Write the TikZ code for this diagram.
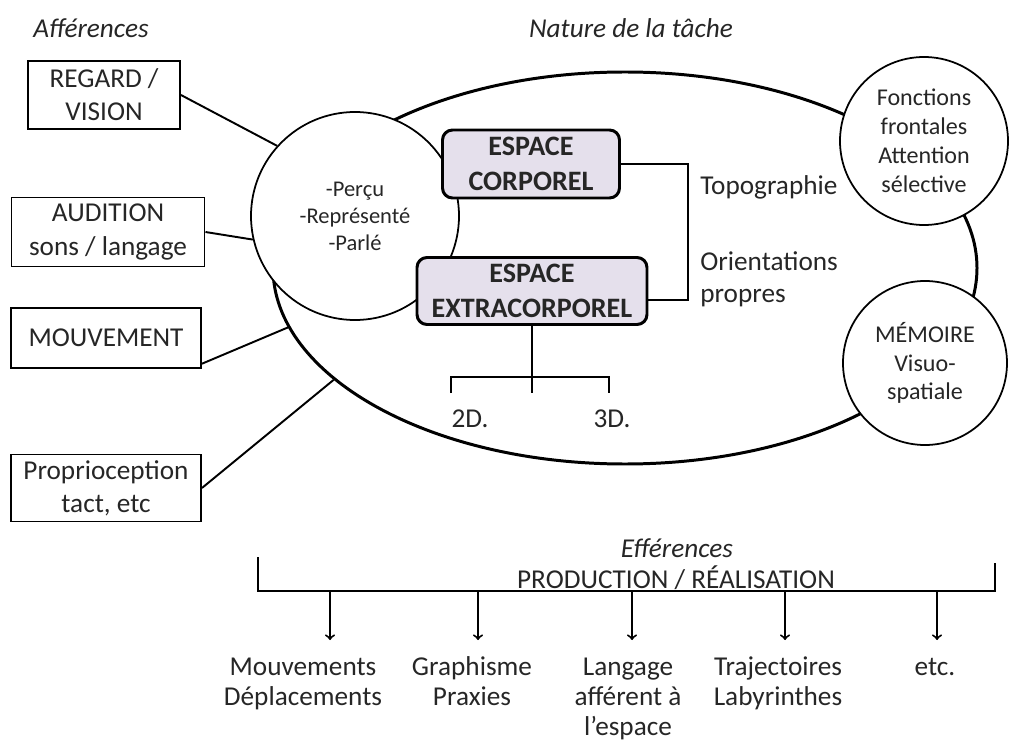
\documentclass[tikz,border=0pt]{standalone}
\usepackage{fontspec}
\setmainfont{Carlito}
\usetikzlibrary{shapes.geometric}
\definecolor{lavande}{RGB}{229,224,236}
\definecolor{texte}{RGB}{38,38,38}

\begin{document}
\begin{tikzpicture}[x=0.2mm,y=-0.2mm,
  every node/.style={text=texte},
  inbox/.style={draw,line width=1.1pt,align=center,inner sep=0pt,font=\fontsize{15.5}{18.8}\selectfont},
  bulle/.style={circle,draw,fill=white,line width=1pt,align=center,inner sep=0pt},
  espace/.style={draw,line width=1.7pt,rounded corners=2mm,fill=lavande,align=center,inner sep=0pt,font=\fontsize{16}{20}\selectfont\bfseries},
  lien/.style={line width=1.1pt},
  fleche/.style={line width=1.1pt,->,shorten >=7mm},
  txt/.style={align=center,inner sep=0pt,font=\fontsize{15.5}{17.2}\selectfont},
  sortie/.style={inner sep=0pt,anchor=base,font=\fontsize{15.5}{17.2}\selectfont},
  titre/.style={inner sep=0pt,font=\fontsize{15.5}{18}\selectfont\itshape}]
  \useasboundingbox (0,0) rectangle (1011,740);
  % titres
  \node[titre] (aff) at (91,28) {Afférences};
  \node[titre] (nat) at (631,28) {Nature de la tâche};
  % nature de la tache
  \node[ellipse,draw,line width=1.7pt,inner sep=0pt,minimum width=140.8mm,minimum height=78.4mm] (tache) at (625,268) {};
  \node[bulle,minimum size=41.6mm,font=\fontsize{12.8}{15.4}\selectfont] (percu) at (355,216) {-Perçu\\-Représenté\\-Parlé};
  \node[bulle,minimum size=33.6mm,font=\fontsize{13.7}{16.5}\selectfont] (front) at (924,141) {Fonctions\\frontales\\Attention\\sélective};
  \node[bulle,minimum size=32.8mm,font=\fontsize{13.7}{16.2}\selectfont] (memo) at (925,363) {MÉMOIRE\\Visuo-\\spatiale};
  \node[espace,minimum width=35.4mm,minimum height=13.6mm] (corp) at (531,164) {ESPACE\\CORPOREL};
  \node[espace,minimum width=46mm,minimum height=13.4mm] (extra) at (532,291) {ESPACE\\EXTRACORPOREL};
  % topographie / orientations
  \coordinate (brk) at (688,300);
  \draw[lien] (corp.east) -| (brk) -- (brk -| extra.east);
  \node[txt,anchor=west] (topo) at (700,187) {Topographie};
  \node[txt,anchor=west,align=left,font=\fontsize{15.5}{18.2}\selectfont] (orient) at (700,279) {Orientations\\propres};
  % 2D / 3D
  \coordinate (t2) at (451,393);
  \coordinate (t3) at (609,393);
  \draw[lien] (t2) -- ++(0,-16) -| (t3);
  \draw[lien] (extra.south) -- (extra.south |- t2) ++(0,-16);
  \node[txt] (d2) at (470,419) {2D.};
  \node[txt] (d3) at (612,419) {3D.};
  % afferences
  \node[inbox,minimum width=30.4mm,minimum height=13.6mm] (regard) at (104,95) {REGARD /\\VISION};
  \node[inbox,minimum width=38.6mm,minimum height=13.8mm] (audit) at (108,232) {AUDITION\\sons / langage};
  \node[inbox,minimum width=38mm,minimum height=12mm] (mouv) at (106,338) {MOUVEMENT};
  \node[inbox,minimum width=38mm,minimum height=13.4mm] (prop) at (106,488) {Proprioception\\tact, etc};
  \draw[lien] (regard.east) -- (percu.138);
  \draw[lien] (audit.east) -- (percu.193);
  \draw[lien] (mouv.-15) -- (tache.190);
  \draw[lien] (prop.east) -- (tache.201);
  % efferences
  \node[titre] (eff) at (677,548) {Efférences};
  \node[txt] (prod) at (676,578) {PRODUCTION / RÉALISATION};
  \coordinate (busg) at (258,591);
  \coordinate (busd) at (995,591);
  \draw[lien] (busg) ++(0,-34) -- (busg) -- (busd) -- ++(0,-28);
  \foreach \nom/\xa/\xt/\lab in {o1/330/303/{Mouvements\\Déplacements},
      o2/478/472/{Graphisme\\Praxies},
      o3/632/628/{Langage\\afférent à\\l’espace},
      o4/785/778/{Trajectoires\\Labyrinthes},
      o5/937/935/{etc.}}{
    \coordinate (a\nom) at (\xa,591);
    \node[sortie] (\nom) at (\xt,675) {\parbox[t]{36mm}{\centering\lab}};
    \draw[fleche] (a\nom) -- (a\nom |- \nom.base);
  }
\end{tikzpicture}
\end{document}
